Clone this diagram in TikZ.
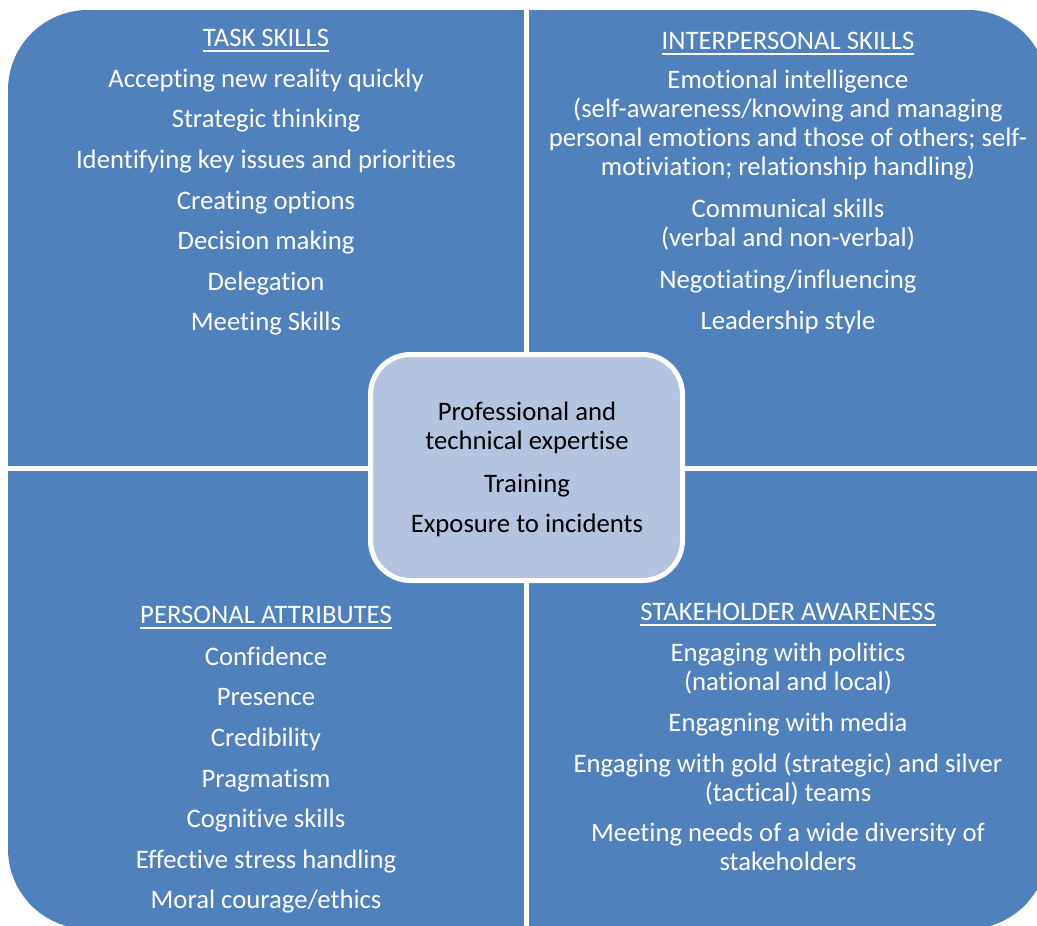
\documentclass[tikz,border=0pt]{standalone}
\usepackage{fontspec}
\setmainfont{Carlito}[Ligatures=NoCommon]
\newcommand{\headln}[1]{\leavevmode\setbox0=\hbox{#1}\rlap{\rule[-5pt]{\wd0}{1.8pt}}\box0}
\definecolor{quadblue}{RGB}{79,129,189}
\definecolor{coreblue}{RGB}{180,196,222}
\tikzset{
  item/.style={text=white, font=\fontsize{26.7}{29}\selectfont, align=center,
    inner sep=0pt, yshift=-4pt,
    execute at begin node=\strut, execute at end node=\strut},
  coreitem/.style={item, text=black}
}
\begin{document}
\begin{tikzpicture}[x=1pt, y=-1pt]
      \useasboundingbox (0,0) rectangle (1037,926);
      \clip (0,0) rectangle (1037,926);
      % four quadrants, split by white gaps
      \fill[quadblue, rounded corners=80] (8,10) rectangle (1048,929);
      \draw[white, line width=5] (526.5,0) -- (526.5,940);
      \draw[white, line width=5] (0,468.5) -- (1060,468.5);
      \draw[white, line width=5, fill=coreblue, rounded corners=40]
        (370.5,354.5) rectangle (682.5,580.5);
      % task skills
      \path
        (266,37) node[item] (tt){\headln{TASK SKILLS}}
        (266,78) node[item] (t1){Accepting new reality quickly}
        (266,118) node[item] (t2){Strategic thinking}
        (266,159) node[item] (t3){Identifying key issues and priorities}
        (266,200) node[item] (t4){Creating options}
        (266,240) node[item] (t5){Decision making}
        (266,281) node[item] (t6){Delegation}
        (266,321) node[item] (t7){Meeting Skills};
      % interpersonal skills
      \path
        (788,40) node[item] (it){\headln{INTERPERSONAL SKILLS}}
        (788,123.5) node[item] (i1){Emotional intelligence\\(self-awareness/knowing and managing\\personal emotions and those of others; self-\\motiviation; relationship handling)}
        (788,223.5) node[item] (i2){Communical skills\\(verbal and non-verbal)}
        (788,279) node[item] (i3){Negotiating/influencing}
        (788,320) node[item] (i4){Leadership style};
      % core
      \path
        (527,426.5) node[coreitem] (c1){Professional and\\technical expertise}
        (527,483) node[coreitem] (c2){Training}
        (527,523) node[coreitem] (c3){Exposure to incidents};
      % personal attributes
      \path
        (266,614) node[item] (pt){\headln{PERSONAL ATTRIBUTES}}
        (266,656) node[item] (p1){Confidence}
        (266,696) node[item] (p2){Presence}
        (266,737) node[item] (p3){Credibility}
        (266,778) node[item] (p4){Pragmatism}
        (266,818) node[item] (p5){Cognitive skills}
        (266,859) node[item] (p6){Effective stress handling}
        (266,899) node[item] (p7){Moral courage/ethics};
      % stakeholder awareness
      \path
        (788,611) node[item] (st){\headln{STAKEHOLDER AWARENESS}}
        (788,667) node[item] (s1){Engaging with politics\\(national and local)}
        (788,722) node[item] (s2){Engagning with media}
        (788,777.5) node[item] (s3){Engaging with gold (strategic) and silver\\(tactical) teams}
        (788,847.5) node[item] (s4){Meeting needs of a wide diversity of\\stakeholders};
    \end{tikzpicture}
\end{document}
